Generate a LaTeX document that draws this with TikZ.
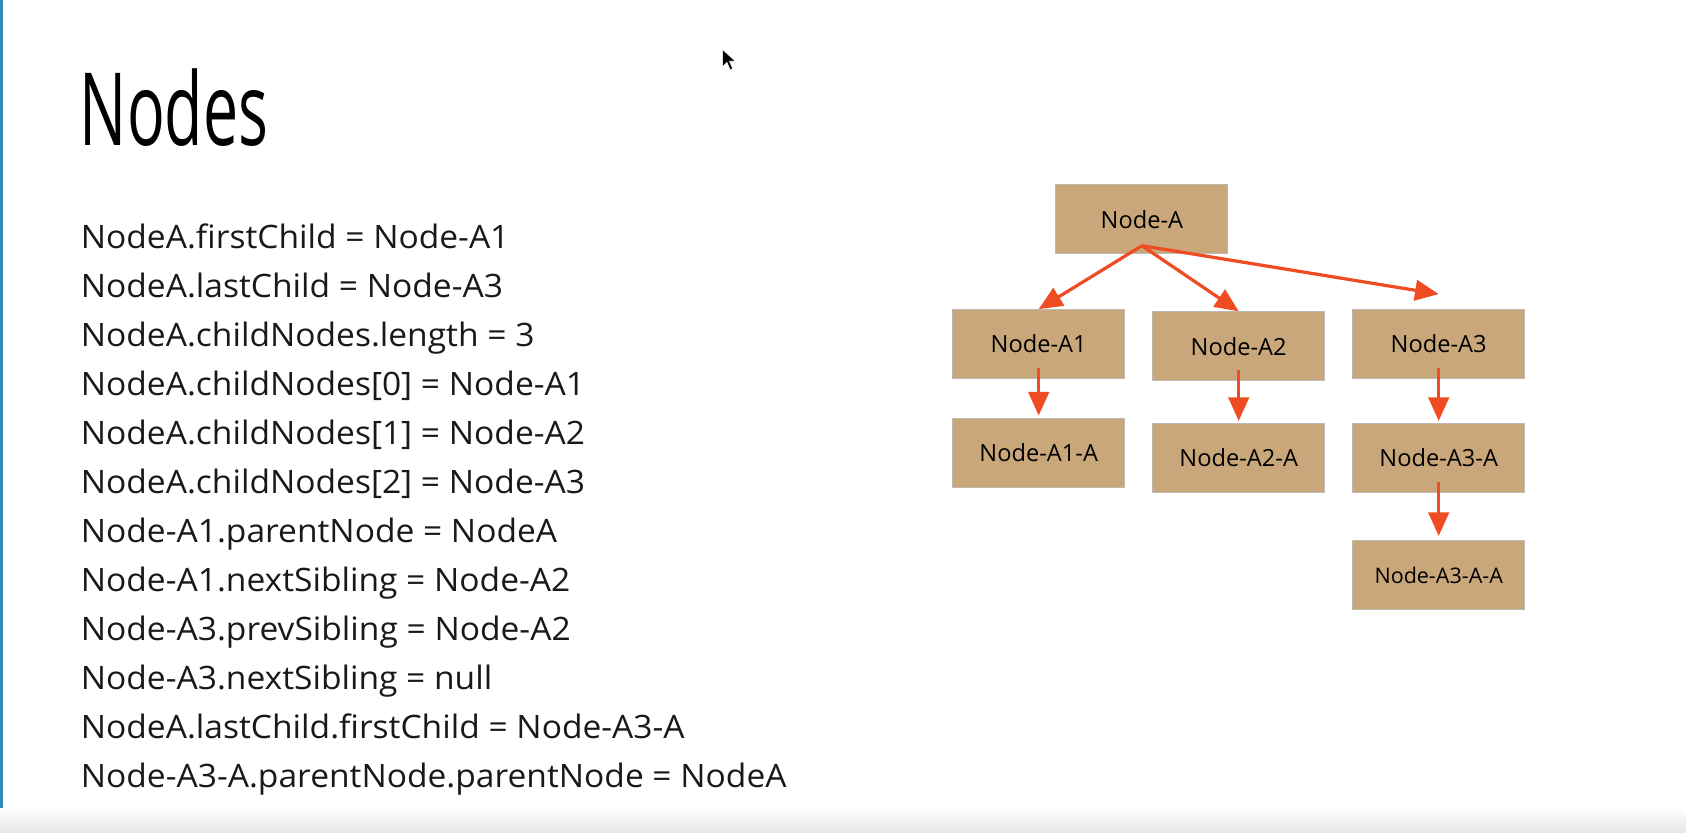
\documentclass[tikz,border=0pt]{standalone}
\usepackage{fontspec}
\setmainfont{Open Sans}
\newfontfamily\titlefont[FakeStretch=0.62]{Open Sans}
\newfontfamily\stmtfont[FakeStretch=1.04]{Open Sans}
\usepackage{tikz}
\usetikzlibrary{arrows.meta,positioning,calc}
\definecolor{boxtan}{RGB}{201,167,123}
\definecolor{boxedge}{RGB}{190,185,178}
\definecolor{arrred}{RGB}{240,76,36}
\definecolor{slideblue}{RGB}{52,140,185}

\begin{document}
\begin{tikzpicture}[x=1pt,y=-1pt,
    dombox/.style={draw=boxedge,fill=boxtan,line width=1pt,minimum width=160pt,%
      minimum height=64pt,inner sep=0pt,font=\fontsize{22}{26}\selectfont},
    link/.style={draw=arrred,line width=3pt,-{Triangle[length=22pt,width=19pt]}},
    stmt/.style={anchor=base west,inner sep=0pt,text=black!90,font=\stmtfont\fontsize{30}{36}\selectfont}]
      \useasboundingbox (0,0) rectangle (1568,774);
      \fill[slideblue] (0,0) rectangle (3,774);
      \shade[top color=white,bottom color=black!10] (0,752) rectangle (1568,774);

      % mouse pointer
      \filldraw[fill=black,draw=white,line width=.6pt] (672,46) -- ++(0,16) -- ++(4,-4)
        -- ++(3,7) -- ++(2.5,-1) -- ++(-3,-7) -- ++(5.5,0) -- cycle;

      \node[anchor=base west,inner sep=0pt,font=\titlefont\fontsize{94}{100}\selectfont] (title) at (74,135) {Nodes};

      \foreach \txt [count=\i from 0] in {{NodeA.firstChild = Node-A1},{NodeA.lastChild = Node-A3},%
          {NodeA.childNodes.length = 3},{NodeA.childNodes[0] = Node-A1},{NodeA.childNodes[1] = Node-A2},%
          {NodeA.childNodes[2] = Node-A3},{Node-A1.parentNode = NodeA},{Node-A1.nextSibling = Node-A2},%
          {Node-A3.prevSibling = Node-A2},{Node-A3.nextSibling = null},{NodeA.lastChild.firstChild = Node-A3-A},%
          {Node-A3-A.parentNode.parentNode = NodeA}}
        \node[stmt] (s\i) at (75,231+45.6*\i) {\txt};

      \node[dombox] (nA) at (1062,204) {Node-A};
      \node[dombox] (nA1) at (966,320) {Node-A1};
      \node[dombox,right=25pt of nA1,yshift=-2pt] (nA2) {Node-A2};
      \node[dombox,right=25pt of nA2,yshift=2pt] (nA3) {Node-A3};
      \node[dombox,below=36pt of nA1] (nA1a) {Node-A1-A};
      \node[dombox,below=39pt of nA2] (nA2a) {Node-A2-A};
      \node[dombox,below=41pt of nA3] (nA3a) {Node-A3-A};
      \node[dombox,below=44pt of nA3a,font=\fontsize{20}{24}\selectfont] (nA3aa) {Node-A3-A-A};

      \coordinate (fork) at ($(nA.south)+(0,-8)$);
      \coordinate (nA3top) at ($(nA3.north)+(0,-14)$);
      \draw[link] (fork) -- (nA1.north);
      \draw[link] (fork) -- (nA2.north);
      \draw[link] (fork) -- (nA3top);
      \draw[link,shorten <=-10pt,shorten >=2pt] (nA1) -- (nA1a);
      \draw[link,shorten <=-10pt,shorten >=2pt] (nA2) -- (nA2a);
      \draw[link,shorten <=-10pt,shorten >=2pt] (nA3) -- (nA3a);
      \draw[link,shorten <=-10pt,shorten >=4pt] (nA3a) -- (nA3aa);
\end{tikzpicture}
\end{document}
